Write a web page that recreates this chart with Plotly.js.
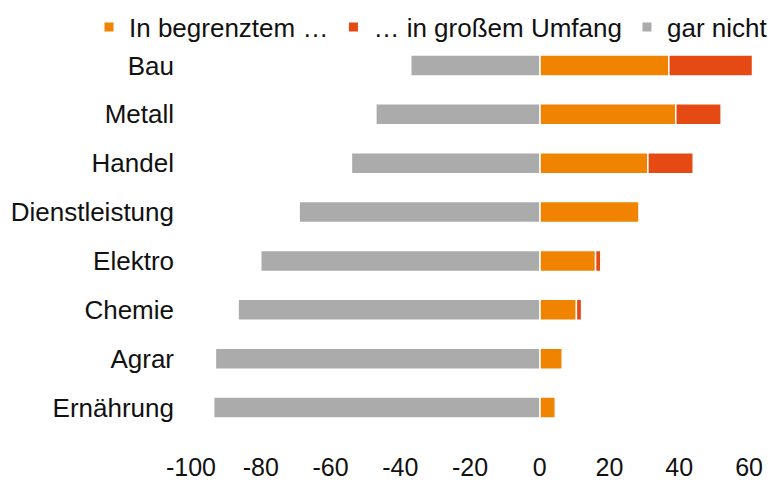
<!DOCTYPE html>
<html>
<head>
<meta charset="utf-8">
<script src="https://cdn.plot.ly/plotly-3.0.1.min.js"></script>
<style>html,body{margin:0;padding:0;background:#fff;}#chart{width:773px;height:480px;}</style>
</head>
<body>
<div id="chart"></div>
<script>
var categories = ["Bau", "Metall", "Handel", "Dienstleistung", "Elektro", "Chemie", "Agrar", "Ernährung"];
var begrenzt = [37, 39, 31, 28.5, 16, 10.5, 6.5, 4.5];
var grossUmfang = [24, 13, 13, 0, 1.5, 1.5, 0, 0];
var garNicht = [-37, -47, -54, -69, -80, -86.5, -93, -93.5];
var seriesNames = ["In begrenztem …", "… in großem Umfang", "gar nicht"];
var xTicks = [-100, -80, -60, -40, -20, 0, 20, 40, 60];

var colors = ["#F08300", "#E64A14", "#ABABAB"];
var font = {family: "Liberation Sans, Arial, sans-serif", size: 26, color: "#111"};

function barTrace(vals, i) {
  return {
    type: "bar", orientation: "h", y: categories, x: vals, name: seriesNames[i],
    marker: {color: colors[i], line: {color: "#fff", width: 1.5}},
    showlegend: false, hoverinfo: "x+y"
  };
}
function legendTrace(i) {
  return {
    type: "scatter", mode: "markers", x: [null], y: [null], name: seriesNames[i],
    marker: {symbol: "square", size: 9, color: colors[i]}, showlegend: true
  };
}

var data = [
  barTrace(begrenzt, 0), barTrace(grossUmfang, 1), barTrace(garNicht, 2),
  legendTrace(0), legendTrace(1), legendTrace(2)
];

var W = 773, H = 480, B = 48;
var layout = {
  width: W, height: H,
  margin: {l: 0, r: 0, t: 0, b: B, pad: 0},
  paper_bgcolor: "#fff", plot_bgcolor: "#fff",
  font: font,
  barmode: "relative",
  bargap: 0.57,
  showlegend: true,
  legend: {
    orientation: "h", x: 1, xanchor: "right", y: (H - B - 27) / (H - B), yanchor: "middle",
    font: font, bgcolor: "rgba(0,0,0,0)", itemwidth: 30, traceorder: "normal"
  },
  xaxis: {
    domain: [191 / W, 759.5 / W],
    range: [-100, 63], tickvals: xTicks, ticktext: xTicks.map(String),
    tickfont: {family: font.family, size: 25, color: font.color},
    showgrid: false, zeroline: false, showline: false, ticks: "",
    ticklabelstandoff: 18, fixedrange: true
  },
  yaxis: {
    domain: [0, 391 / (H - B)],
    type: "category", categoryorder: "array", categoryarray: categories,
    autorange: "reversed", showgrid: false, zeroline: false, showline: false,
    ticks: "", ticklabelstandoff: 16, fixedrange: true
  }
};

Plotly.newPlot("chart", data, layout, {displayModeBar: false, staticPlot: true});
</script>
</body>
</html>
